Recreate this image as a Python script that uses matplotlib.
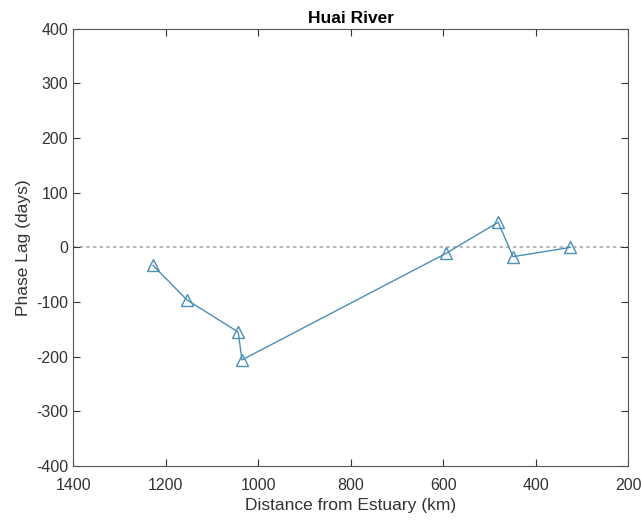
import matplotlib
matplotlib.use("Agg")
import matplotlib.pyplot as plt

plt.rcParams['font.family'] = ['Liberation Sans', 'DejaVu Sans']
plt.rcParams['axes.unicode_minus'] = False

distance = [1227, 1154, 1043, 1035, 594, 481, 449, 325]
phase_lag = [-33, -96, -155, -206, -11, 46, -17, 0]

fig = plt.figure(figsize=(6.41, 5.23), dpi=100)
ax = fig.add_axes([0.114, 0.109, 0.866, 0.836])

ax.axhline(0, color='#aaaaaa', linestyle=(0, (2, 2)), linewidth=1.2, zorder=1)
ax.plot(distance, phase_lag, color='#4a90b5', linewidth=1.0, marker='^',
        markersize=9, markerfacecolor='none', markeredgecolor='#4a90b5',
        markeredgewidth=1.0, zorder=2)

ax.set_xlim(1400, 200)
ax.set_ylim(-400, 400)
ax.set_xticks([1400, 1200, 1000, 800, 600, 400, 200])
ax.set_yticks(range(-400, 401, 100))
ax.tick_params(direction='in', length=5, labelsize=11.5, colors='#333333',
               top=True, right=True)
ax.tick_params(axis='x', pad=9)
for s in ax.spines.values():
    s.set_color('#555555')
    s.set_linewidth(0.8)

ax.set_xlabel('Distance from Estuary (km)', fontsize=12.5, color='#333333',
              labelpad=3)
ax.set_ylabel('Phase Lag (days)', fontsize=12.5, color='#333333')
ax.set_title('Huai River', fontsize=12.5, fontweight='bold', pad=4)

fig.savefig('out.png', dpi=100)
